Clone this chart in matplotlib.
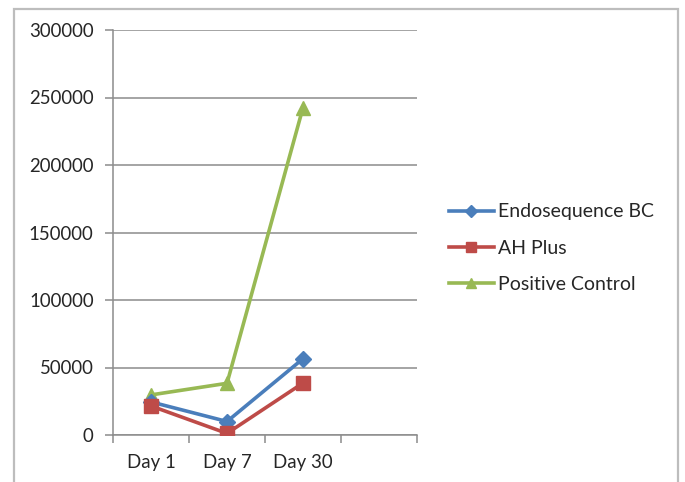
import matplotlib
matplotlib.use("Agg")
import matplotlib.pyplot as plt
from matplotlib.patches import Rectangle

categories = ["Day 1", "Day 7", "Day 30", ""]
endosequence_bc = [24500, 10000, 56500]
ah_plus = [21500, 1200, 38500]
positive_control = [29700, 38300, 242500]
y_ticks = [0, 50000, 100000, 150000, 200000, 250000, 300000]

W, H = 685, 482
fig = plt.figure(figsize=(W / 100, H / 100), dpi=100)
fig.patch.set_facecolor("white")

# outer chart-area frame
fig.patches.append(Rectangle((14 / W, -0.05), (678 - 14) / W, 1.05 - 9 / H,
                             transform=fig.transFigure, fill=False,
                             edgecolor="#BDBDBD", linewidth=1.6))

ax = fig.add_axes([113 / W, 1 - 435 / H, (417 - 113) / W, (435 - 30) / H])
font = "Lato"
grey = "#8C8C8C"
txt = "#262626"

x = [i + 0.5 for i in range(len(endosequence_bc))]
ax.plot(x, endosequence_bc, color="#4A7EBB", lw=2.6, marker="D", ms=8,
        label="Endosequence BC", zorder=3)
ax.plot(x, ah_plus, color="#BE4B48", lw=2.6, marker="s", ms=10,
        label="AH Plus", zorder=3)
ax.plot(x, positive_control, color="#98B954", lw=2.6, marker="^", ms=10,
        label="Positive Control", zorder=2)

ax.set_xlim(0, len(categories))
ax.set_ylim(0, 300000)
ax.set_yticks(y_ticks)
ax.set_yticklabels([str(v) for v in y_ticks], fontfamily=font, fontsize=13.4,
                   color=txt)
ax.set_xticks(range(len(categories) + 1))
ax.set_xticklabels([])
for i, c in enumerate(categories):
    if c:
        ax.text(i + 0.5, -0.048, c, transform=ax.get_xaxis_transform(),
                ha="center", va="top", fontfamily=font, fontsize=13.4,
                color=txt)

ax.yaxis.grid(True, color=grey, lw=1.1)
ax.set_axisbelow(True)
for s in ["top", "right"]:
    ax.spines[s].set_visible(False)
for s in ["left", "bottom"]:
    ax.spines[s].set_color(grey)
    ax.spines[s].set_linewidth(1.1)
ax.tick_params(axis="y", direction="out", length=6, width=1.1, color=grey, pad=8)
ax.tick_params(axis="x", direction="out", length=6, width=1.1, color=grey)

leg = fig.legend(loc="upper left", bbox_to_anchor=(431 / W, 1 - 186 / H),
                 frameon=False, prop={"family": font, "size": 14},
                 handlelength=2.35, handletextpad=0.2, labelspacing=0.98,
                 markerscale=0.75)
for t in leg.get_texts():
    t.set_color(txt)

fig.savefig("out.png", dpi=100)
